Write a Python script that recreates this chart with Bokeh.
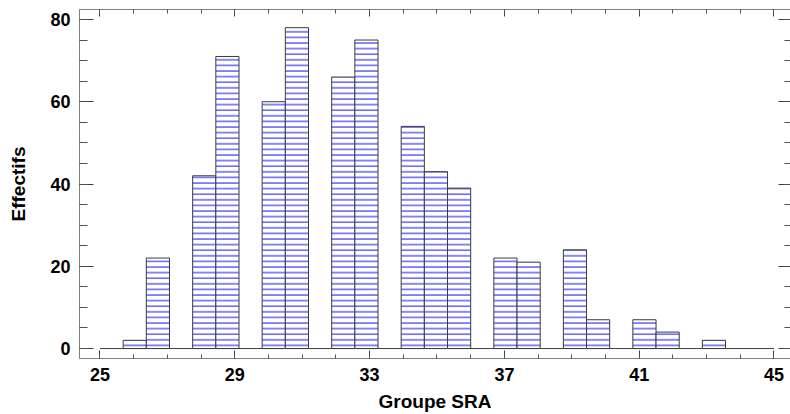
import numpy as np
from bokeh.plotting import figure
from bokeh.models import (LinearAxis, FixedTicker, SingleIntervalTicker, Range1d,
                          ColumnDataSource)
from bokeh.embed import file_html
from bokeh.resources import INLINE

# ---- data -------------------------------------------------------------
bin_start = 25.0
bin_width = 0.6875
counts = [0, 2, 22, 0, 42, 71, 0, 60, 78, 0, 66, 75, 0, 54, 43, 39, 0,
          22, 21, 0, 24, 7, 0, 7, 4, 0, 2]
x_ticks = [25, 29, 33, 37, 41, 45]
x_minor = list(range(25, 46))
y_ticks = [0, 20, 40, 60, 80]

x_label = "Groupe SRA"
y_label = "Effectifs"

# ---- histogram table --------------------------------------------------
c = np.array(counts, dtype=float)
left = bin_start + bin_width * np.arange(len(c))
right = left + bin_width
mask = c > 0
src = ColumnDataSource(dict(left=left[mask], right=right[mask], top=c[mask],
                            bottom=np.zeros(mask.sum())))

FONT = "Liberation Sans"

p = figure(width=790, height=414,
           x_range=Range1d(24.392, 45.49), y_range=Range1d(-2.42, 82.42),
           output_backend="svg", toolbar_location=None,
           min_border_left=79, min_border_top=9, min_border_right=0,
           min_border_bottom=0)
p.background_fill_color = "white"
p.border_fill_color = "white"
p.outline_line_color = None
p.xgrid.visible = False
p.ygrid.visible = False

# baseline across the class range
p.segment(x0=[x_ticks[0]], x1=[x_ticks[-1]], y0=[0], y1=[0],
          line_color="#404040", line_width=1)

p.quad(left="left", right="right", top="top", bottom="bottom", source=src,
       fill_color="white", line_color="#3a3a3a", line_width=1,
       hatch_pattern="horizontal_line", hatch_color="#1010f0",
       hatch_scale=5.6, hatch_weight=1.0)


def style(ax, major_in, minor_in, labels=True):
    ax.axis_line_color = "#808080"
    ax.major_tick_in = major_in
    ax.major_tick_out = 0
    ax.minor_tick_in = minor_in
    ax.minor_tick_out = 0
    ax.major_tick_line_color = "#404040"
    ax.minor_tick_line_color = "#505050"
    if labels:
        ax.major_label_text_font = FONT
        ax.major_label_text_font_style = "bold"
        ax.major_label_text_font_size = "18px"
        ax.major_label_text_color = "black"
        ax.axis_label_text_font = FONT
        ax.axis_label_text_font_style = "bold"
        ax.axis_label_text_font_size = "19px"
        ax.axis_label_text_color = "black"
    else:
        ax.major_label_text_font_size = "1px"
        ax.major_label_text_color = None
        ax.major_label_standoff = 0


xt = FixedTicker(ticks=x_ticks, minor_ticks=x_minor)
yt = SingleIntervalTicker(interval=20, num_minor_ticks=4)

xa = p.xaxis[0]
xa.ticker = xt
xa.axis_label = x_label
style(xa, 8, 4)
xa.major_label_standoff = 9
xa.axis_label_standoff = 7

ya = p.yaxis[0]
ya.ticker = yt
ya.axis_label = y_label
style(ya, 14, 8)
ya.major_label_standoff = 9
ya.axis_label_standoff = 18

top_ax = LinearAxis(ticker=FixedTicker(ticks=x_ticks, minor_ticks=x_minor))
style(top_ax, 7, 4, labels=False)
p.add_layout(top_ax, "above")

right_ax = LinearAxis(ticker=SingleIntervalTicker(interval=20, num_minor_ticks=4))
style(right_ax, 12, 6, labels=False)
right_ax.axis_line_color = None
p.add_layout(right_ax, "right")

open("out.html", "w").write(file_html(p, INLINE))
